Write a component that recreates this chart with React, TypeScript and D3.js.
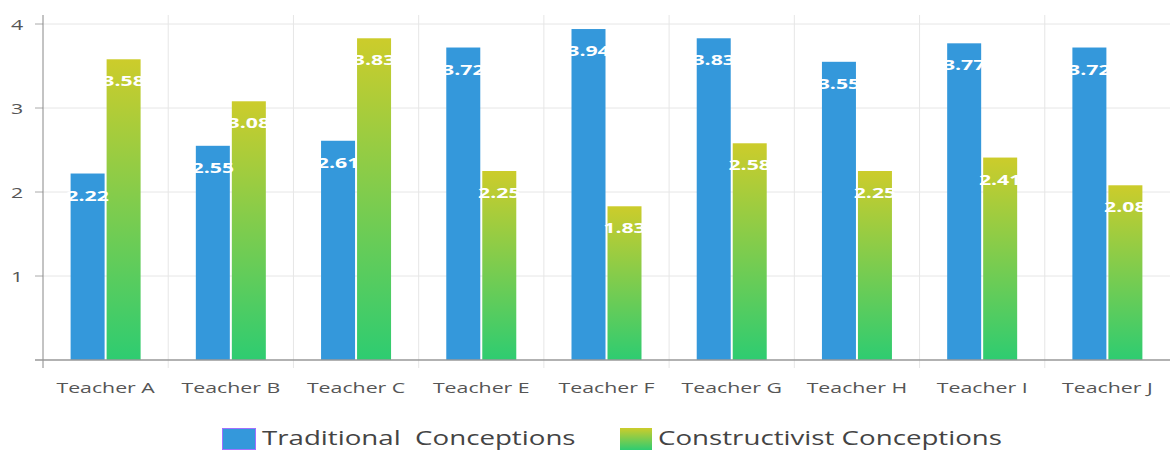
import React from "react";
import * as d3 from "d3";

const categories = ["Teacher A", "Teacher B", "Teacher C", "Teacher E", "Teacher F", "Teacher G", "Teacher H", "Teacher I", "Teacher J"];
const traditional = [2.22, 2.55, 2.61, 3.72, 3.94, 3.83, 3.55, 3.77, 3.72];
const constructivist = [3.58, 3.08, 3.83, 2.25, 1.83, 2.58, 2.25, 2.41, 2.08];
const yTicks = [1, 2, 3, 4];
const seriesNames = ["Traditional  Conceptions", "Constructivist Conceptions"];

const W = 1170, H = 450;
const left = 43, right = 1170, top = 15, bottom = 360;
const FONT = "'Open Sans', sans-serif";
const SX = 1.42;

function T({ x, y, anchor = "middle", size, fill, weight, children }: any) {
  return (
    <g transform={`translate(${x},${y}) scale(${SX},1)`}>
      <text x={0} y={0} textAnchor={anchor} fontFamily={FONT} fontSize={size} fontWeight={weight} fill={fill} style={{ whiteSpace: "pre" }}>{children}</text>
    </g>
  );
}

export default function App() {
  const x = d3.scaleBand<string>().domain(categories).range([left, right]);
  const y = d3.scaleLinear().domain([0, 4]).range([bottom, 24]);
  const bw = 34, gap = 2;
  return (
    <svg width={W} height={H} style={{ position: "absolute", left: 0, top: 0 }}>
      <defs>
        <linearGradient id="gG" x1="0" y1="0" x2="0" y2="1">
          <stop offset="0" stopColor="#cccc2b" />
          <stop offset="1" stopColor="#2ecc71" />
        </linearGradient>
      </defs>
      {yTicks.map(t => (
        <g key={t}>
          <line x1={left} x2={right} y1={y(t)} y2={y(t)} stroke="#e6e6e6" />
          <line x1={35} x2={left} y1={y(t)} y2={y(t)} stroke="#aaa" />
          <T x={17} y={y(t) + 5.5} size={15} fill="#555">{t}</T>
        </g>
      ))}
      {categories.slice(1).map(c => (
        <line key={c} x1={x(c)!} x2={x(c)!} y1={top} y2={368} stroke="#e6e6e6" />
      ))}
      {categories.map((c, i) => {
        const cx = x(c)! + x.bandwidth() / 2;
        const bx1 = cx - gap / 2 - bw;
        const bx2 = cx + gap / 2;
        return (
          <g key={c}>
            <rect x={bx1} y={y(traditional[i])} width={bw} height={bottom - y(traditional[i])} fill="#3498db" />
            <rect x={bx2} y={y(constructivist[i])} width={bw} height={bottom - y(constructivist[i])} fill="url(#gG)" />
          </g>
        );
      })}
      {categories.map((c, i) => {
        const cx = x(c)! + x.bandwidth() / 2;
        const bx1 = cx - gap / 2 - bw;
        const bx2 = cx + gap / 2;
        return (
          <g key={c + "l"}>
            <T x={bx1 + bw / 2} y={y(traditional[i]) + 27} size={15} weight="bold" fill="#fff">{traditional[i].toFixed(2)}</T>
            <T x={bx2 + bw / 2} y={y(constructivist[i]) + 27} size={15} weight="bold" fill="#fff">{constructivist[i].toFixed(2)}</T>
            <T x={cx} y={393} size={15} fill="#555">{c}</T>
          </g>
        );
      })}
      <line x1={left} x2={left} y1={top} y2={368} stroke="#888" />
      <line x1={35} x2={right} y1={bottom} y2={bottom} stroke="#999" strokeWidth={1.5} />
      <rect x={222.5} y={428.5} width={33} height={21} fill="#3498db" stroke="#a070ff" />
      <T x={262} y={445} anchor="start" size={19.5} fill="#444">{seriesNames[0]}</T>
      <rect x={620} y={428} width={32} height={22} fill="url(#gG)" />
      <T x={658} y={445} anchor="start" size={19.5} fill="#444">{seriesNames[1]}</T>
    </svg>
  );
}
